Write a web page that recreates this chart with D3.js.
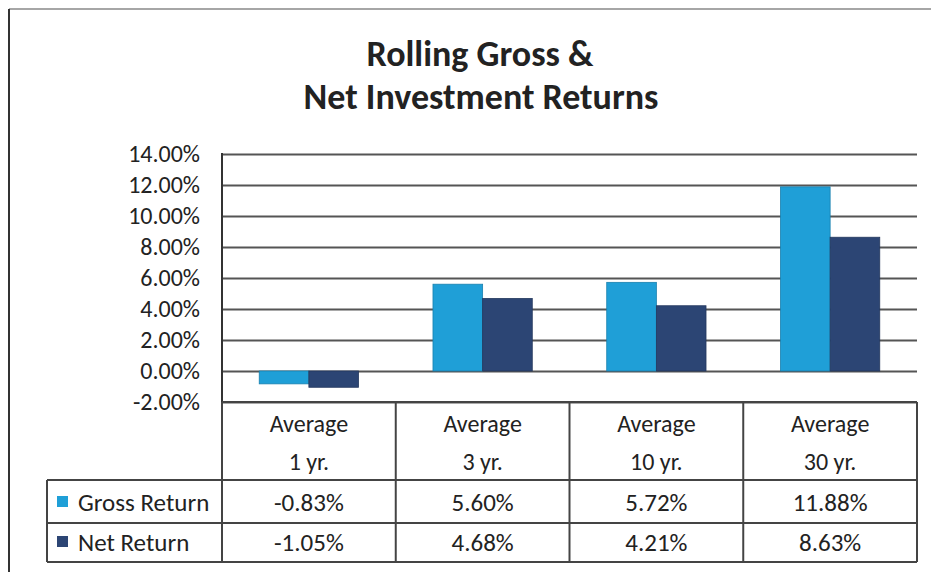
<!DOCTYPE html>
<html>
<head>
<meta charset="utf-8">
<script src="https://cdn.jsdelivr.net/npm/d3@7"></script>
<style>
  body { margin: 0; background: #fff; }
  svg { display: block; font-family: Carlito, Lato, "Open Sans", sans-serif; }
</style>
</head>
<body>
<svg width="931" height="572"></svg>
<script>
// chart data
var categories = ["1 yr.", "3 yr.", "10 yr.", "30 yr."];
var seriesNames = ["Gross Return", "Net Return"];
var grossValues = [-0.83, 5.60, 5.72, 11.88];
var netValues = [-1.05, 4.68, 4.21, 8.63];
var yTicks = [-2, 0, 2, 4, 6, 8, 10, 12, 14];
var colors = ["#1f9fd7", "#2c4574"];

var seriesValues = [grossValues, netValues];

var svg = d3.select("svg");

// outer chart border (only top and left visible in the scan)
svg.append("line")
  .attr("x1", 9).attr("y1", 9).attr("x2", 931).attr("y2", 9)
  .attr("stroke", "#888").attr("stroke-width", 1.5);
svg.append("line")
  .attr("x1", 9).attr("y1", 9).attr("x2", 9).attr("y2", 572)
  .attr("stroke", "#333").attr("stroke-width", 2);

// title
svg.append("text")
  .attr("x", 480).attr("y", 66)
  .attr("text-anchor", "middle")
  .attr("font-size", 36).attr("font-weight", "bold")
  .attr("fill", "#222")
  .text("Rolling Gross &");
svg.append("text")
  .attr("x", 481).attr("y", 109)
  .attr("text-anchor", "middle")
  .attr("font-size", 36).attr("font-weight", "bold")
  .attr("fill", "#222")
  .text("Net Investment Returns");

xScale = d3.scaleBand()
  .domain(categories)
  .range([222, 917]);

var bw = xScale.bandwidth();
var gap = bw * 1.5 / 3.5;

xInner = d3.scaleBand()
  .domain(seriesNames)
  .range([gap / 2, bw - gap / 2]);

yScale = d3.scaleLinear()
  .domain([-2, 14])
  .range([402, 154]);

// gridlines
yAxis = d3.axisLeft(yScale)
  .tickValues(yTicks)
  .tickSize(-(917 - 222))
  .tickFormat(function (d) { return d.toFixed(2) + "%"; });

var yG = svg.append("g")
  .attr("id", "yAxisG")
  .attr("transform", "translate(222,0)")
  .call(yAxis);

yG.select(".domain").remove();
yG.selectAll(".tick line")
  .attr("stroke", "#555")
  .attr("stroke-width", 2);
yG.selectAll(".tick text")
  .attr("x", -22)
  .attr("font-size", 24)
  .attr("fill", "#222")
  .style("font-family", "Carlito, Lato, 'Open Sans', sans-serif");

// vertical axis line
svg.append("line")
  .attr("x1", 222).attr("x2", 222)
  .attr("y1", yScale(14) - 1).attr("y2", yScale(-2))
  .attr("stroke", "#333").attr("stroke-width", 2);

// bars
seriesNames.forEach(function (name, si) {
  svg.append("g")
    .selectAll("rect")
    .data(seriesValues[si])
    .enter()
    .append("rect")
    .attr("x", function (d, i) { return xScale(categories[i]) + xInner(name); })
    .attr("width", xInner.bandwidth())
    .attr("y", function (d) { return yScale(Math.max(0, d)); })
    .attr("height", function (d) { return Math.abs(yScale(d) - yScale(0)); })
    .attr("fill", colors[si])
    .attr("stroke", d3.color(colors[si]).darker(0.6))
    .attr("stroke-width", 0.8);
});

// data table
var tableTop = yScale(-2);
var headerBottom = 480;
var row1Bottom = 523;
var row2Bottom = 562;
var legendLeft = 47;
var lineColor = "#444";

var table = svg.append("g").attr("id", "dataTable");

// horizontal rules
table.append("line")
  .attr("x1", 222).attr("x2", 917).attr("y1", tableTop).attr("y2", tableTop)
  .attr("stroke", lineColor).attr("stroke-width", 2);
[headerBottom, row1Bottom, row2Bottom].forEach(function (y) {
  table.append("line")
    .attr("x1", legendLeft).attr("x2", 917).attr("y1", y).attr("y2", y)
    .attr("stroke", lineColor).attr("stroke-width", 2);
});

// vertical rules
categories.forEach(function (c) {
  table.append("line")
    .attr("x1", xScale(c)).attr("x2", xScale(c))
    .attr("y1", tableTop).attr("y2", row2Bottom)
    .attr("stroke", lineColor).attr("stroke-width", 2);
});
table.append("line")
  .attr("x1", 917).attr("x2", 917).attr("y1", tableTop).attr("y2", row2Bottom)
  .attr("stroke", lineColor).attr("stroke-width", 2);
table.append("line")
  .attr("x1", legendLeft).attr("x2", legendLeft).attr("y1", headerBottom).attr("y2", row2Bottom)
  .attr("stroke", lineColor).attr("stroke-width", 2);

// header text
categories.forEach(function (c) {
  var cx = xScale(c) + bw / 2;
  table.append("text")
    .attr("x", cx).attr("y", 432)
    .attr("text-anchor", "middle")
    .attr("font-size", 24)
    .attr("fill", "#222")
    .text("Average");
  table.append("text")
    .attr("x", cx).attr("y", 470)
    .attr("text-anchor", "middle")
    .attr("font-size", 24)
    .attr("fill", "#222")
    .text(c);
});

// value rows
var rowBaselines = [511, 551];
seriesNames.forEach(function (name, si) {
  var yb = rowBaselines[si];
  table.append("rect")
    .attr("x", 57).attr("y", yb - 15)
    .attr("width", 11).attr("height", 11)
    .attr("fill", colors[si]);
  table.append("text")
    .attr("x", 78).attr("y", yb)
    .attr("font-size", 25)
    .attr("fill", "#222")
    .text(name);
  seriesValues[si].forEach(function (v, i) {
    table.append("text")
      .attr("x", xScale(categories[i]) + bw / 2).attr("y", yb)
      .attr("text-anchor", "middle")
      .attr("font-size", 25)
      .attr("fill", "#222")
      .text(v.toFixed(2) + "%");
  });
});
</script>
</body>
</html>
